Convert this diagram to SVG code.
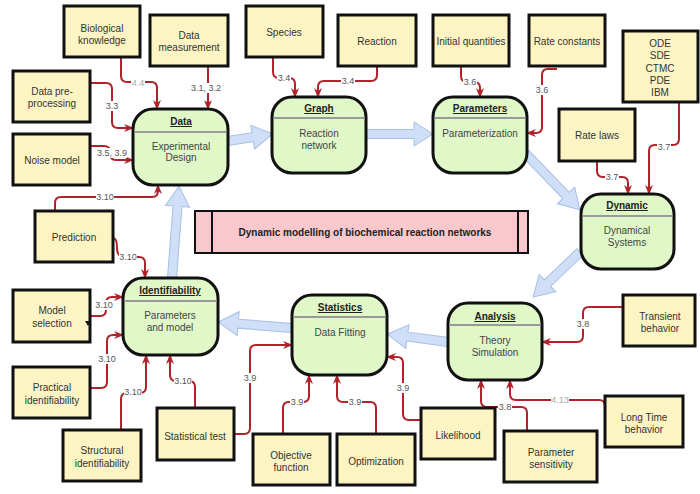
<svg xmlns="http://www.w3.org/2000/svg" width="700" height="494" viewBox="0 0 700 494">
<defs>
<marker id="ah" viewBox="0 0 10 10" refX="9" refY="5" markerWidth="10" markerHeight="10" markerUnits="userSpaceOnUse" orient="auto">
<path d="M0,1 L10,5 L0,9 L3,5 z" fill="#b0232a"/>
</marker>
</defs>
<style>
text{font-family:"Liberation Sans",Arial,sans-serif}
.yb{fill:#fcf5c3;stroke:#111;stroke-width:3}
.yt{font-size:10px;fill:#333;text-anchor:middle}
.gn{fill:#e0f8c8;stroke:#111;stroke-width:3}
.hl{stroke:#999;stroke-width:2}
.tt{font-size:10px;font-weight:bold;fill:#222;text-anchor:middle;text-decoration:underline}
.bt{font-size:10px;fill:#444;text-anchor:middle}
.c{fill:none;stroke:#b0232a;stroke-width:2;marker-end:url(#ah)}
.lb{fill:#fff}
.l{font-size:9px;fill:#555;text-anchor:middle}
.ll{fill:#aaa}
.ba{fill:#cfdff7;stroke:#a6bfe6;stroke-width:1}
</style>
<g id="flow">
<path class="ba" transform="translate(228,141) rotate(-9)" d="M0,-4.5 H25 V-12 L45,0 L25,12 V4.5 H0 Z"/>
<path class="ba" transform="translate(366,134)" d="M0,-4.5 H48 V-12 L67,0 L48,12 V4.5 H0 Z"/>
<path class="ba" transform="translate(525,153) rotate(46)" d="M0,-4.5 H59 V-12 L79,0 L59,12 V4.5 H0 Z"/>
<path class="ba" transform="translate(580,252) rotate(136.2)" d="M0,-4.5 H45 V-12 L65,0 L45,12 V4.5 H0 Z"/>
<path class="ba" transform="translate(448,342) rotate(187.5)" d="M0,-4.5 H41 V-12 L61,0 L41,12 V4.5 H0 Z"/>
<path class="ba" transform="translate(292,328) rotate(184.6)" d="M0,-4.5 H54 V-12 L74,0 L54,12 V4.5 H0 Z"/>
<path class="ba" transform="translate(172,278) rotate(-85.6)" d="M0,-4.5 H72 V-12 L92,0 L72,12 V4.5 H0 Z"/>
</g>
<g id="connectors">
<path class="c" d="M121,57 V76 Q121,82 127,82 H151 Q157,82 157,88 V109"/>
<path class="c" d="M208,66 V109"/>
<path class="c" d="M90,83 H106 Q112,83 112,89 V122 Q112,128 118,128 H133"/>
<path class="c" d="M90,146 H104 Q110,146 110,152 V154 Q110,160 116,160 H133"/>
<path class="c" d="M55,211 V203 Q55,197 61,197 H152 Q158,197 158,191 V185"/>
<path class="c" d="M113,238 Q117,238 117,248 Q117,257 125,257 H139 Q145,257 145,263 V278"/>
<path class="c" d="M90,316 H100 Q106,316 106,310 V303 Q106,297 112,297 H123"/>
<path class="c" d="M90,388 H101 Q107,388 107,382 V341 Q107,335 113,335 H123"/>
<path class="c" d="M121,430 V399 Q121,393 127,393 H140 Q146,393 146,387 V355"/>
<path class="c" d="M195,408 V387 Q195,381 189,381 H176 Q170,381 170,375 V355"/>
<path class="c" d="M234,434 H244 Q250,434 250,428 V351 Q250,345 256,345 H292"/>
<path class="c" d="M283,434 V408 Q283,402 289,402 H303 Q309,402 309,396 V375"/>
<path class="c" d="M376,434 V408 Q376,402 370,402 H343 Q337,402 337,396 V375"/>
<path class="c" d="M421,420 H409 Q403,420 403,414 V363 Q403,357 397,357 H387"/>
<path class="c" d="M623,307 H589 Q583,307 583,313 V336 Q583,342 577,342 H542"/>
<path class="c" d="M605,420 V406 Q605,400 599,400 H516 Q510,400 510,394 V380"/>
<path class="c" d="M527,431 V413 Q527,407 521,407 H487 Q481,407 481,401 V380"/>
<path class="c" d="M597,161 V171 Q597,177 603,177 H622 Q628,177 628,183 V194"/>
<path class="c" d="M679,102 V139 Q679,145 673,145 H655 Q649,145 649,151 V194"/>
<path class="c" d="M461,66 V76 Q461,82 467,82 H474 Q480,82 480,88 V97"/>
<path class="c" d="M557,69 H548 Q542,69 542,75 V127 Q542,133 536,133 H527"/>
<path class="c" d="M273,57 V72 Q273,78 279,78 H289 Q295,78 295,84 V97"/>
<path class="c" d="M377,66 V75 Q377,81 371,81 H324 Q318,81 318,87 V97"/>
</g>
<g id="connector-labels">
<rect class="lb" x="131" y="78" width="14" height="10"/><text class="l ll" x="138" y="86">4.4</text>
<rect class="lb" x="191" y="83" width="30" height="10"/><text class="l" x="206" y="91">3.1, 3.2</text>
<rect class="lb" x="105" y="101" width="14" height="10"/><text class="l" x="112" y="109">3.3</text>
<rect class="lb" x="97" y="148" width="30" height="10"/><text class="l" x="112" y="156">3.5, 3.9</text>
<rect class="lb" x="96" y="192" width="18" height="10"/><text class="l" x="105" y="200">3.10</text>
<rect class="lb" x="119" y="252" width="18" height="10"/><text class="l" x="128" y="260">3.10</text>
<rect class="lb" x="95" y="300" width="18" height="10"/><text class="l" x="104" y="308">3.10</text>
<rect class="lb" x="98" y="354" width="18" height="10"/><text class="l" x="107" y="362">3.10</text>
<rect class="lb" x="124" y="387" width="18" height="10"/><text class="l" x="133" y="395">3.10</text>
<rect class="lb" x="174" y="376" width="18" height="10"/><text class="l" x="183" y="384">3.10</text>
<rect class="lb" x="243" y="373" width="14" height="10"/><text class="l" x="250" y="381">3.9</text>
<rect class="lb" x="290" y="397" width="14" height="10"/><text class="l" x="297" y="405">3.9</text>
<rect class="lb" x="348" y="397" width="14" height="10"/><text class="l" x="355" y="405">3.9</text>
<rect class="lb" x="396" y="383" width="14" height="10"/><text class="l" x="403" y="391">3.9</text>
<rect class="lb" x="576" y="319" width="14" height="10"/><text class="l" x="583" y="327">3.8</text>
<rect class="lb" x="551" y="395" width="18" height="10"/><text class="l ll" x="560" y="403">4.13</text>
<rect class="lb" x="498" y="402" width="14" height="10"/><text class="l" x="505" y="410">3.8</text>
<rect class="lb" x="605" y="172" width="14" height="10"/><text class="l" x="612" y="180">3.7</text>
<rect class="lb" x="657" y="142" width="14" height="10"/><text class="l" x="664" y="150">3.7</text>
<rect class="lb" x="463" y="77" width="14" height="10"/><text class="l" x="470" y="85">3.6</text>
<rect class="lb" x="535" y="85" width="14" height="10"/><text class="l" x="542" y="93">3.6</text>
<rect class="lb" x="277" y="73" width="14" height="10"/><text class="l" x="284" y="81">3.4</text>
<rect class="lb" x="341" y="76" width="14" height="10"/><text class="l" x="348" y="84">3.4</text>
</g>
<g id="title">
<rect x="195" y="211" width="333" height="42" fill="#f8c8cc" stroke="#111" stroke-width="2"/>
<line x1="212" y1="211" x2="212" y2="253" stroke="#111" stroke-width="2"/>
<line x1="518" y1="211" x2="518" y2="253" stroke="#111" stroke-width="2"/>
<text x="365" y="236" font-size="10" font-weight="bold" fill="#222" text-anchor="middle">Dynamic modelling of biochemical reaction networks</text>
</g>
<g id="data">
<rect class="gn" x="133" y="109" width="95" height="76" rx="20"/>
<line class="hl" x1="134.5" y1="132" x2="226.5" y2="132"/>
<text class="tt" x="181" y="125">Data</text>
<text class="bt" x="181" y="150">Experimental</text>
<text class="bt" x="181" y="161">Design</text>
</g>
<g id="graph">
<rect class="gn" x="272" y="97" width="94" height="76" rx="20"/>
<line class="hl" x1="273.5" y1="118" x2="364.5" y2="118"/>
<text class="tt" x="319" y="112">Graph</text>
<text class="bt" x="319" y="137">Reaction</text>
<text class="bt" x="319" y="149">network</text>
</g>
<g id="parameters">
<rect class="gn" x="433" y="97" width="94" height="76" rx="20"/>
<line class="hl" x1="434.5" y1="118" x2="525.5" y2="118"/>
<text class="tt" x="480" y="112">Parameters</text>
<text class="bt" x="480" y="137">Parameterization</text>
</g>
<g id="dynamic">
<rect class="gn" x="581" y="194" width="93" height="75" rx="20"/>
<line class="hl" x1="582.5" y1="216" x2="672.5" y2="216"/>
<text class="tt" x="627" y="209">Dynamic</text>
<text class="bt" x="627" y="234">Dynamical</text>
<text class="bt" x="627" y="246">Systems</text>
</g>
<g id="analysis">
<rect class="gn" x="448" y="303" width="94" height="77" rx="20"/>
<line class="hl" x1="449.5" y1="325" x2="540.5" y2="325"/>
<text class="tt" x="495" y="320">Analysis</text>
<text class="bt" x="495" y="344">Theory</text>
<text class="bt" x="495" y="356">Simulation</text>
</g>
<g id="statistics">
<rect class="gn" x="292" y="295" width="95" height="80" rx="20"/>
<line class="hl" x1="293.5" y1="317" x2="385.5" y2="317"/>
<text class="tt" x="340" y="311">Statistics</text>
<text class="bt" x="340" y="336">Data Fitting</text>
</g>
<g id="identifiability">
<rect class="gn" x="123" y="278" width="95" height="77" rx="20"/>
<line class="hl" x1="124.5" y1="301" x2="216.5" y2="301"/>
<text class="tt" x="170" y="294">Identifiability</text>
<text class="bt" x="170" y="319">Parameters</text>
<text class="bt" x="170" y="331">and model</text>
</g>
<g id="biological-knowledge"><rect class="yb" x="64" y="6" width="76" height="51"/><text class="yt" x="102" y="32">Biological</text><text class="yt" x="102" y="44">knowledge</text></g>
<g id="data-measurement"><rect class="yb" x="150" y="15" width="78" height="51"/><text class="yt" x="189" y="39">Data</text><text class="yt" x="189" y="51">measurement</text></g>
<g id="data-preprocessing"><rect class="yb" x="13" y="71" width="77" height="51"/><text class="yt" x="52" y="95">Data pre-</text><text class="yt" x="52" y="107">processing</text></g>
<g id="noise-model"><rect class="yb" x="13" y="134" width="77" height="51"/><text class="yt" x="52" y="164">Noise model</text></g>
<g id="species"><rect class="yb" x="246" y="6" width="77" height="51"/><text class="yt" x="284" y="36">Species</text></g>
<g id="reaction"><rect class="yb" x="338" y="15" width="78" height="51"/><text class="yt" x="377" y="45">Reaction</text></g>
<g id="initial-quantities"><rect class="yb" x="433" y="15" width="76" height="51"/><text class="yt" x="471" y="45">Initial quantities</text></g>
<g id="rate-constants"><rect class="yb" x="529" y="15" width="76" height="51"/><text class="yt" x="567" y="45">Rate constants</text></g>
<g id="models"><rect class="yb" x="623" y="31" width="75" height="71"/><text class="yt" x="660" y="47">ODE</text><text class="yt" x="660" y="59">SDE</text><text class="yt" x="660" y="72">CTMC</text><text class="yt" x="660" y="84">PDE</text><text class="yt" x="660" y="96">IBM</text></g>
<g id="rate-laws"><rect class="yb" x="559" y="109" width="76" height="52"/><text class="yt" x="597" y="139">Rate laws</text></g>
<g id="prediction"><rect class="yb" x="35" y="211" width="78" height="51"/><text class="yt" x="74" y="241">Prediction</text></g>
<g id="model-selection"><rect class="yb" x="13" y="290" width="77" height="52"/><text class="yt" x="52" y="314">Model</text><text class="yt" x="52" y="327">selection</text><path d="M85,321 L91,321 L88,326 Z" fill="#111"/></g>
<g id="practical-identifiability"><rect class="yb" x="13" y="367" width="77" height="51"/><text class="yt" x="52" y="391">Practical</text><text class="yt" x="52" y="404">identifiability</text></g>
<g id="structural-identifiability"><rect class="yb" x="63" y="430" width="78" height="51"/><text class="yt" x="102" y="454">Structural</text><text class="yt" x="102" y="467">identifiability</text></g>
<g id="statistical-test"><rect class="yb" x="157" y="408" width="77" height="52"/><text class="yt" x="195" y="440">Statistical test</text></g>
<g id="objective-function"><rect class="yb" x="253" y="434" width="77" height="51"/><text class="yt" x="291" y="459">Objective</text><text class="yt" x="291" y="471">function</text></g>
<g id="optimization"><rect class="yb" x="337" y="434" width="78" height="51"/><text class="yt" x="376" y="465">Optimization</text></g>
<g id="likelihood"><rect class="yb" x="421" y="408" width="74" height="51"/><text class="yt" x="458" y="439">Likelihood</text></g>
<g id="transient-behavior"><rect class="yb" x="623" y="295" width="72" height="51"/><text class="yt" x="660" y="320">Transient</text><text class="yt" x="660" y="332">behavior</text></g>
<g id="long-time-behavior"><rect class="yb" x="605" y="396" width="78" height="51"/><text class="yt" x="644" y="421">Long Time</text><text class="yt" x="644" y="433">behavior</text></g>
<g id="parameter-sensitivity"><rect class="yb" x="504" y="431" width="93" height="51"/><text class="yt" x="551" y="456">Parameter</text><text class="yt" x="551" y="468">sensitivity</text></g>
</svg>
